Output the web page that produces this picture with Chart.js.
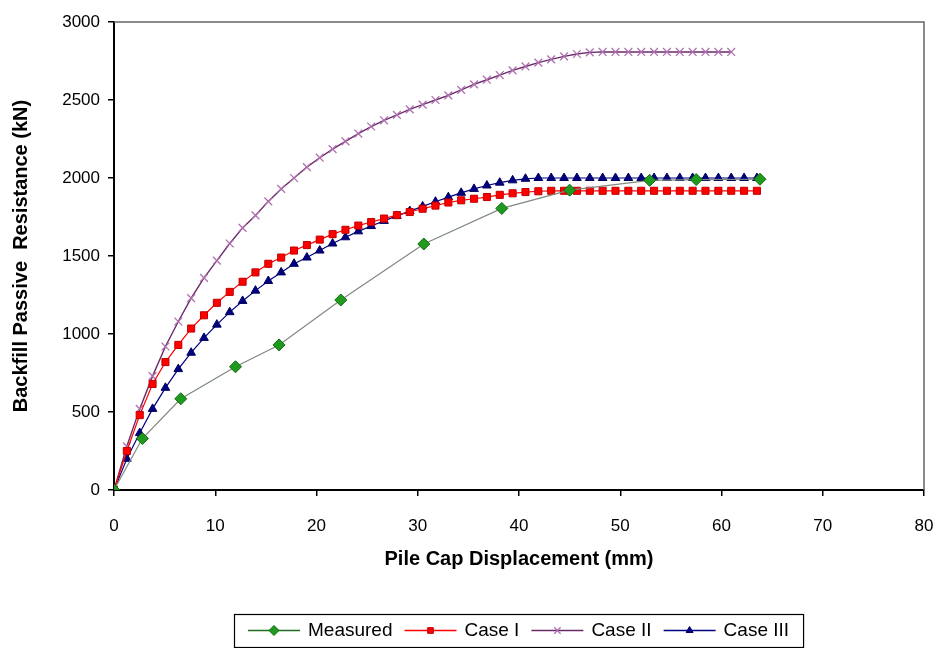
<!DOCTYPE html>
<html lang="en">
<head>
  <meta charset="UTF-8">
  <title>Backfill Passive Resistance</title>
  <script src="https://cdn.jsdelivr.net/npm/chart.js"></script>
  <style>
    html, body { margin: 0; padding: 0; background: #fff; }
    #wrap { width: 940px; height: 648px; }
  </style>
</head>
<body>
<div id="wrap"><canvas id="pileChart" width="940" height="648"></canvas></div>

<script>
  // measured test points
  const measuredDisp = [0, 2.8, 6.6, 12.0, 16.3, 22.4, 30.6, 38.3, 45.0, 52.9, 57.5, 63.8];
  const measuredLoad = [0, 330, 585, 790, 930, 1218, 1577, 1805, 1922, 1985, 1990, 1992];

  // model output steps (mm)
  const modelDisp = [0, 1.27, 2.54, 3.81, 5.08, 6.35, 7.62, 8.89, 10.16, 11.43, 12.7, 13.97, 15.24,
    16.51, 17.78, 19.05, 20.32, 21.59, 22.86, 24.13, 25.4, 26.67, 27.94, 29.21, 30.48, 31.75, 33.02,
    34.29, 35.56, 36.83, 38.1, 39.37, 40.64, 41.91, 43.18, 44.45, 45.72, 46.99, 48.26, 49.53, 50.8,
    52.07, 53.34, 54.61, 55.88, 57.15, 58.42, 59.69, 60.96, 62.23, 63.5];

  const caseI = [0, 250, 480, 680, 820, 930, 1035, 1120, 1200, 1270, 1335, 1395, 1450, 1490, 1535,
    1570, 1605, 1640, 1668, 1695, 1718, 1740, 1762, 1782, 1803, 1823, 1843, 1857, 1867, 1878, 1892,
    1902, 1910, 1915, 1918, 1918, 1918, 1918, 1918, 1918, 1918, 1918, 1918, 1918, 1918, 1918, 1918,
    1918, 1918, 1918, 1918];

  const caseII = [0, 280, 520, 730, 920, 1080, 1230, 1360, 1470, 1580, 1680, 1760, 1850, 1930, 2000,
    2070, 2130, 2185, 2235, 2285, 2330, 2370, 2405, 2440, 2470, 2500, 2530, 2565, 2600, 2630, 2660,
    2690, 2715, 2740, 2760, 2780, 2795, 2805, 2808, 2808, 2808, 2808, 2808, 2808, 2808, 2808, 2808,
    2808, 2808];

  const caseIII = [0, 200, 365, 520, 655, 775, 880, 975, 1060, 1140, 1212, 1278, 1340, 1395, 1450,
    1490, 1535, 1580, 1620, 1658, 1692, 1725, 1757, 1788, 1818, 1848, 1877, 1905, 1930, 1952, 1970,
    1985, 1995, 2000, 2000, 2000, 2000, 2000, 2000, 2000, 2000, 2000, 2000, 2000, 2000, 2000, 2000,
    2000, 2000, 2000, 2000];

  const seriesNames = ['Measured', 'Case I', 'Case II', 'Case III'];
  const xTitle = 'Pile Cap Displacement (mm)';
  const yTitle = 'Backfill Passive  Resistance (kN)';

  const pts = (xs, ys) => ys.map((y, i) => ({ x: xs[i], y: y }));

  const datasets = [
    {
      label: seriesNames[0], data: pts(measuredDisp, measuredLoad),
      borderColor: '#7f8a7f', borderWidth: 1.2,
      pointStyle: 'rectRot', pointRadius: 6, pointBackgroundColor: '#1f9a1f',
      pointBorderColor: '#0d6b0d', pointBorderWidth: 1, legendLine: '#1f6b1f'
    },
    {
      label: seriesNames[1], data: pts(modelDisp, caseI),
      borderColor: '#ff0000', borderWidth: 1.2,
      pointStyle: 'rect', pointRadius: 5, pointBackgroundColor: '#ff0000',
      pointBorderColor: '#c00000', pointBorderWidth: 1, legendLine: '#ff0000'
    },
    {
      label: seriesNames[2], data: pts(modelDisp, caseII),
      borderColor: '#6a2a6a', borderWidth: 1.4,
      pointStyle: 'crossRot', pointRadius: 5.5, pointBackgroundColor: '#c070c0',
      pointBorderColor: '#b070b0', pointBorderWidth: 1.3, legendLine: '#6a2a6a'
    },
    {
      label: seriesNames[3], data: pts(modelDisp, caseIII),
      borderColor: '#000080', borderWidth: 1.2,
      pointStyle: 'triangle', pointRadius: 5, pointBackgroundColor: '#000080',
      pointBorderColor: '#000060', pointBorderWidth: 1, legendLine: '#000080'
    }
  ];

  // frame: grey top/right border of plot area
  const framePlugin = {
    id: 'frame',
    beforeDatasetsDraw(chart) {
      const { ctx, chartArea: a } = chart;
      ctx.save();
      ctx.strokeStyle = '#666';
      ctx.lineWidth = 1.5;
      ctx.beginPath();
      ctx.moveTo(a.left, a.top);
      ctx.lineTo(a.right, a.top);
      ctx.lineTo(a.right, a.bottom);
      ctx.stroke();
      ctx.restore();
    }
  };

  // boxed legend below the axis title, centred on the plot area
  const legendBox = {
    id: 'legendBox',
    afterDraw(chart) {
      const { ctx, chartArea: a } = chart;
      const font = '19px "Liberation Sans", Arial, sans-serif';
      const sample = 52, gap = 8, itemGap = 12, pad = 14;
      ctx.save();
      ctx.font = font;
      const widths = chart.data.datasets.map(d => ctx.measureText(d.label).width);
      let total = pad * 2 + widths.reduce((s, w) => s + w, 0) +
        widths.length * (sample + gap) + (widths.length - 1) * itemGap;
      const cx = (a.left + a.right) / 2;
      const left = Math.round(cx - total / 2), top = 614, h = 33;
      ctx.strokeStyle = '#000';
      ctx.lineWidth = 1.2;
      ctx.strokeRect(left + 0.5, top + 0.5, total, h);
      let x = left + pad;
      const y = top + h / 2;
      chart.data.datasets.forEach((d, i) => {
        ctx.strokeStyle = d.legendLine;
        ctx.lineWidth = 1.3;
        ctx.beginPath();
        ctx.moveTo(x, y);
        ctx.lineTo(x + sample, y);
        ctx.stroke();
        ctx.fillStyle = d.pointBackgroundColor;
        ctx.strokeStyle = d.pointBorderColor;
        ctx.lineWidth = d.pointBorderWidth;
        Chart.helpers.drawPoint(ctx, {
          pointStyle: d.pointStyle, radius: d.pointRadius - 1, rotation: 0,
          borderWidth: d.pointBorderWidth
        }, x + sample / 2, y);
        ctx.fillStyle = '#000';
        ctx.textBaseline = 'middle';
        ctx.textAlign = 'left';
        ctx.fillText(d.label, x + sample + gap, y);
        x += sample + gap + widths[i] + itemGap;
      });
      ctx.restore();
    }
  };

  const tickFont = { family: '"Liberation Sans", Arial, sans-serif', size: 17 };
  const titleFont = { family: '"Liberation Sans", Arial, sans-serif', size: 20, weight: 'bold' };
  const plain = v => String(v);

  new Chart(document.getElementById('pileChart'), {
    type: 'line',
    data: { datasets },
    options: {
      responsive: false,
      animation: false,
      layout: { padding: { top: 22, right: 2, bottom: 73, left: 0 } },
      elements: { line: { tension: 0, fill: false } },
      plugins: {
        legend: { display: false },
        tooltip: { enabled: false }
      },
      scales: {
        x: {
          type: 'linear', min: 0, max: 80,
          ticks: { stepSize: 10, font: tickFont, color: '#000', padding: 20, maxRotation: 0, callback: plain },
          grid: { drawOnChartArea: false, drawTicks: true, tickLength: 6, color: '#000', lineWidth: 1.5 },
          border: { display: true, color: '#000', width: 2 },
          title: { display: true, text: xTitle, font: titleFont, color: '#000', padding: { top: 4, bottom: 4 } },
          afterFit(scale) {
            scale.height = 85;
            scale.paddingLeft = 0;
            scale.paddingRight = 16;
          }
        },
        y: {
          type: 'linear', min: 0, max: 3000,
          ticks: { stepSize: 500, font: tickFont, color: '#000', padding: 8, callback: plain },
          grid: { drawOnChartArea: false, drawTicks: true, tickLength: 6, color: '#000', lineWidth: 1.5 },
          border: { display: true, color: '#000', width: 2 },
          title: { display: true, text: yTitle, font: titleFont, color: '#000', padding: { top: 9, bottom: 0 } },
          afterFit(scale) { scale.width = 114; }
        }
      }
    },
    plugins: [framePlugin, legendBox]
  });
</script>
</body>
</html>
